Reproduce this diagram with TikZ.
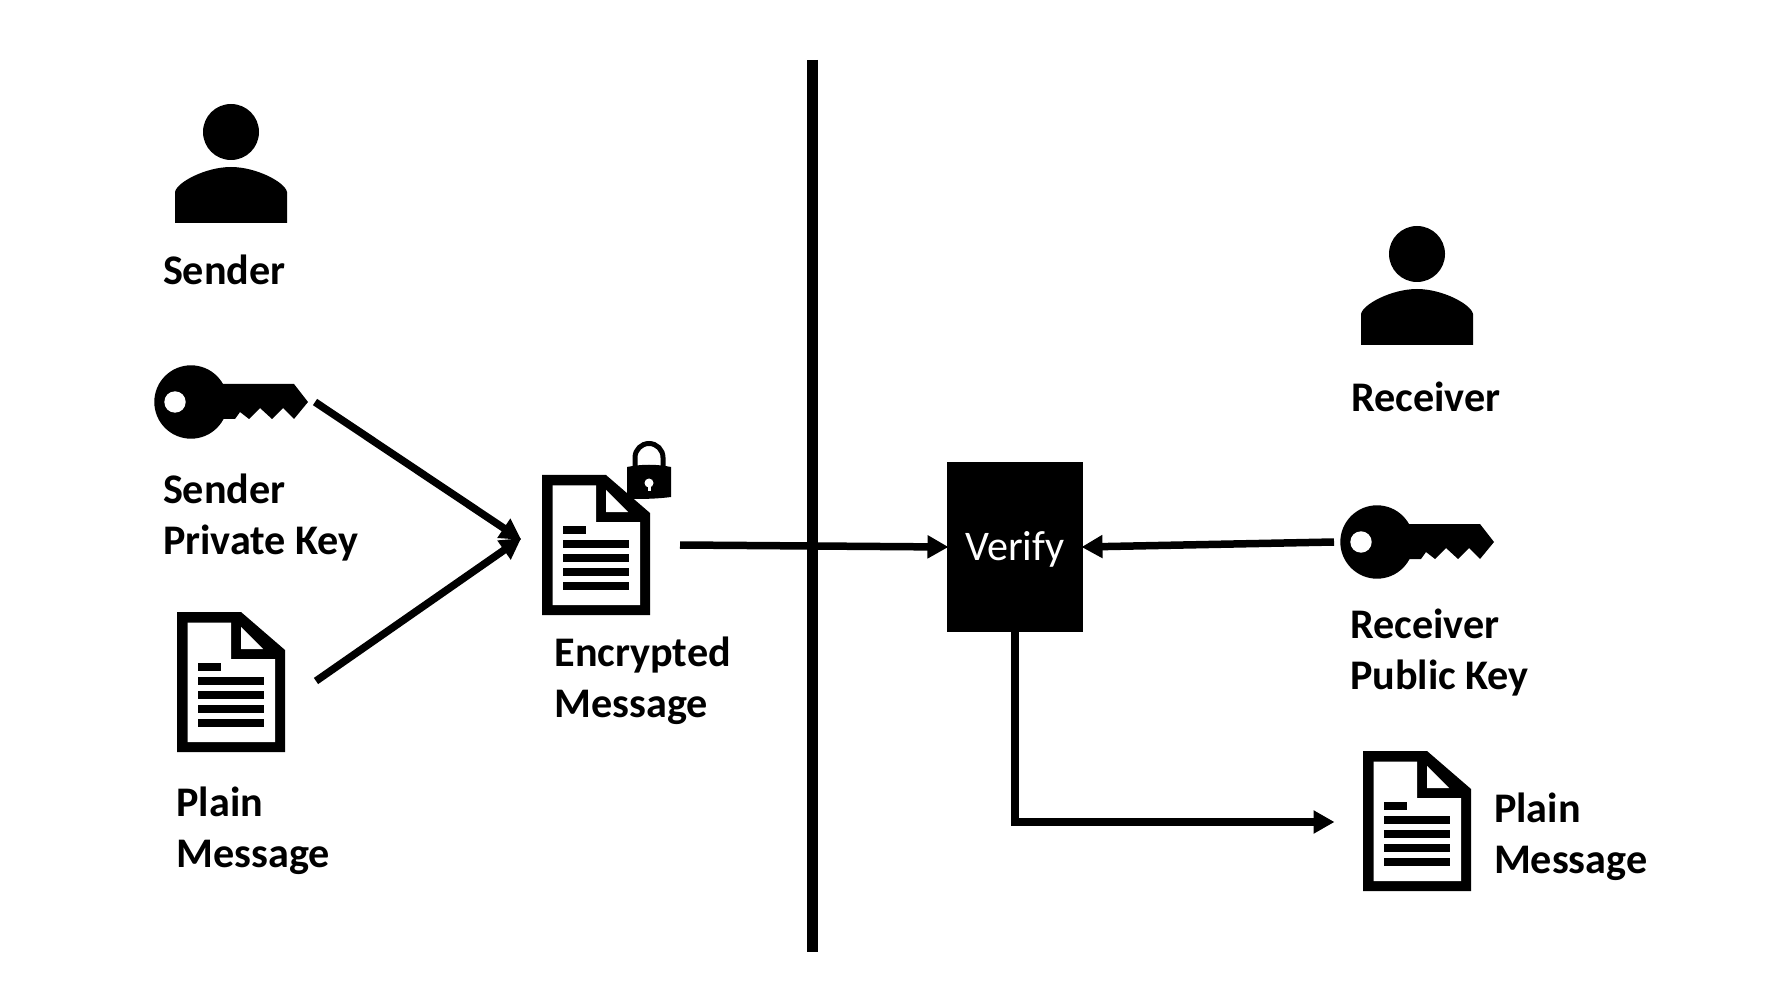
\documentclass[tikz,border=0pt]{standalone}
\usepackage{fontspec}
\setmainfont{Carlito}
\usetikzlibrary{arrows.meta}

\tikzset{
    iconspot/.style 2 args={inner sep=0pt, outer sep=0pt, minimum width=#1*0.02cm, minimum height=#2*0.02cm},
    label/.style={anchor=base west, inner sep=0pt, outer sep=0pt, align=left, font=\fontsize{24}{28.6}\selectfont\bfseries},
    flow/.style={line width=0.15cm, shorten >=-0.03cm, -{Triangle[length=0.42cm,width=0.44cm]}},
    personicon/.pic={
        \fill (0,0) circle (28);
        \fill (-56,91) -- (-56,60) .. controls (-54,50) and (-25,35) .. (0,35)
            .. controls (25,35) and (54,50) .. (56,60) -- (56,91) -- cycle;
    },
    keyicon/.pic={
        \fill (0,0) circle (36.7);
        \fill (20,-18) -- (103,-18) -- (117,0) -- (103,17) -- (92,6) -- (81,17) -- (69,6)
            -- (58,17) -- (49,10) -- (44,17) -- (20,17) -- cycle;
        \fill[white] (-16,0) circle (10.7);
    },
    docicon/.pic={
        \fill (0,0) -- (64,0) -- (108,38) -- (108,140) -- (0,140) -- cycle;
        \fill[white] (10.5,10.5) -- (54,10.5) -- (54,47) -- (98,47) -- (98,130) -- (10.5,130) -- cycle;
        \fill[white] (64,15) -- (86,37) -- (64,37) -- cycle;
        \fill (21,51) rectangle (44,58.5);
        \foreach \ly in {65,79,93,107}
            \fill (21,\ly) rectangle (87,\ly+7.5);
    },
}

\begin{document}
\begin{tikzpicture}[x=0.02cm, y=-0.02cm]
    \useasboundingbox (0,0) rectangle (1790,982);

    % Draw divider
    \coordinate (dividertop) at (812.5,60);
    \coordinate (dividerbottom) at (812.5,952);
    \draw[line width=0.23cm] (dividertop) -- (dividerbottom);

    % Sender side
    \pic at (231,132) {personicon};
    \node[label] (senderlabel) at (163,285) {Sender};
    \node[iconspot={168}{74}] (senderkey) at (231,402) {};
    \pic at (191,402) {keyicon};
    \node[label] (senderkeylabel) at (163,554) {Sender\\Private Key};
    \node[iconspot={170}{140}] (plainmsg) at (231,681) {};
    \pic at (177,612) {docicon};
    \node[label] (plainmsglabel) at (176.5,867) {Plain\\Message};

    % Encrypted message with lock
    \node[iconspot={160}{152}] (encdoc) at (600,539) {};
    \pic at (542,475) {docicon};
    \fill (627,467) .. controls (642,464) and (656,464) .. (671,467) -- (671,497)
        .. controls (656,499) and (642,499) .. (627,499) -- cycle;
    \draw[line width=0.1cm] (635,468) -- (635,457.5) arc[start angle=180, end angle=360, radius=14] -- (663,468);
    \fill[white] (649,483) circle (4.5);
    \fill[white] (647.5,483) rectangle (650.5,491);
    \node[label] (enclabel) at (554.5,717) {Encrypted\\Message};

    % Verify box
    \node[iconspot={136}{170}, fill=black, text=white, text height=0.56cm, text depth=0cm, font=\fontsize{24}{28.6}\selectfont] (verify) at (1015,547) {Verify};

    % Receiver side
    \pic at (1417,254) {personicon};
    \node[label] (receiverlabel) at (1351,412) {Receiver};
    \node[iconspot={166}{74}] (receiverkey) at (1417,542) {};
    \pic at (1377,542) {keyicon};
    \node[label] (receiverkeylabel) at (1350,689) {Receiver\\Public Key};
    \node[iconspot={168}{140}] (resultdoc) at (1417,822) {};
    \pic at (1363,751) {docicon};
    \node[label] (resultlabel) at (1494,873) {Plain\\Message};

    % Draw arrows
    \draw[flow] (senderkey.east) -- (encdoc.west);
    \draw[flow] (plainmsg.east) -- (encdoc.west);
    \draw[flow] ([shift={(0,6)}]encdoc.east) -- (verify.west);
    \draw[flow] (receiverkey.west) -- (verify.east);
    \draw[flow] (verify.south) |- (resultdoc.west);
\end{tikzpicture}
\end{document}
